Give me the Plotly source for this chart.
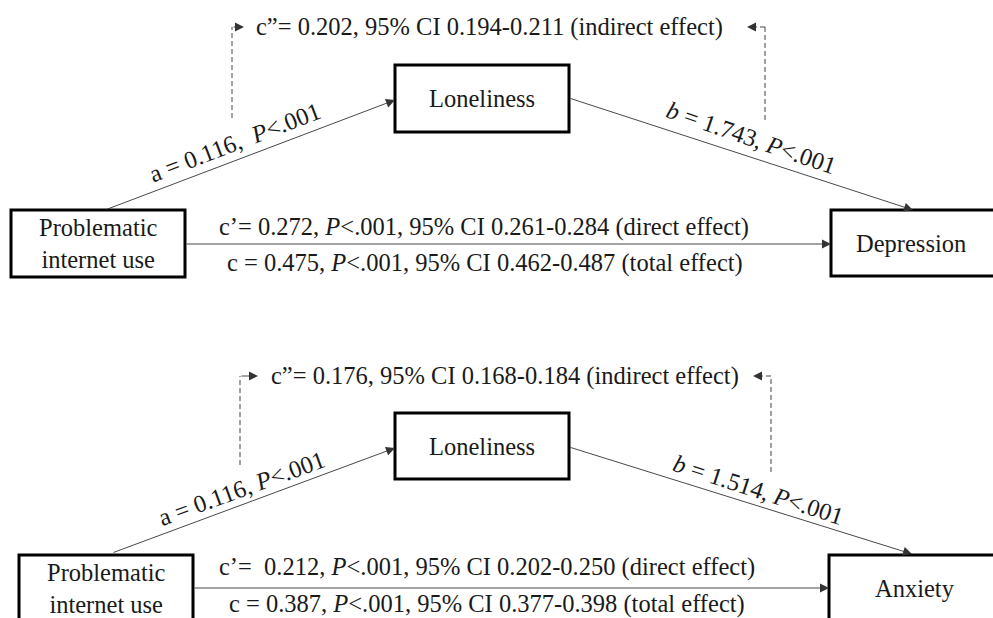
import plotly.graph_objects as go

# ---- data ----
outcomes = ["Depression", "Anxiety"]
predictor = "Problematic<br>internet use"
mediator = "Loneliness"
a_coef = [0.116, 0.116]
b_coef = [1.743, 1.514]
direct_eff = [0.272, 0.212]
direct_ci_low = [0.261, 0.202]
direct_ci_high = [0.284, 0.250]
total_eff = [0.475, 0.387]
total_ci_low = [0.462, 0.377]
total_ci_high = [0.487, 0.398]
indirect_eff = [0.202, 0.176]
indirect_ci_low = [0.194, 0.168]
indirect_ci_high = [0.211, 0.184]

FONT = "Liberation Serif, Times New Roman, serif"
FS = 24.5
TXT = "#1a1a1a"
LINE = "#444444"

# layout geometry for each panel (diagram positions)
panels = [
    dict(piu=(11, 185, 210, 277), lon=(395, 569, 65, 132), out=(831, 1010, 210, 276),
         a=((105, 210), (395, 100)), b=((569, 98), (913, 210)), cy=244,
         dl=(232, 118, 27, 244), dr=(765, 120, 27, 747), ind_x=489,
         a_lab=(234, 142, -21), b_lab=(751, 137, 19),
         cp_lab=(484, 227), c_lab=(485, 263), out_x=911, aspace="\u00a0",
         cpspace=""),
    dict(piu=(19, 193, 555, 622), lon=(395, 569, 413, 479), out=(829, 1010, 555, 622),
         a=((112, 553), (395, 448)), b=((569, 447), (912, 554)), cy=588,
         dl=(240, 465, 376, 258), dr=(771, 472, 376, 753), ind_x=505,
         a_lab=(241, 488, -20), b_lab=(758, 489, 18),
         cp_lab=(487, 567), c_lab=(487, 604), out_x=915, aspace="",
         cpspace="\u00a0"),
]

fig = go.Figure()
fig.add_trace(go.Scatter(x=[0, 993], y=[0, 618], mode="markers",
                         marker=dict(opacity=0), hoverinfo="skip", showlegend=False))

shapes = []
ann = []

def box(x0, x1, y0, y1):
    shapes.append(dict(type="rect", xref="x", yref="y", x0=x0, x1=x1, y0=y0, y1=y1,
                       line=dict(color="black", width=3), fillcolor="white", layer="above"))

def arrow(p0, p1):
    ann.append(dict(x=p1[0], y=p1[1], ax=p0[0], ay=p0[1], xref="x", yref="y",
                    axref="x", ayref="y", text="", showarrow=True, arrowhead=2,
                    arrowsize=2, arrowwidth=0.9, arrowcolor="#333333"))

def text(x, y, s, angle=0):
    ann.append(dict(x=x, y=y, xref="x", yref="y", text=s, showarrow=False,
                    textangle=angle, xanchor="center", yanchor="middle",
                    font=dict(family=FONT, size=FS, color=TXT)))

for i, p in enumerate(panels):
    # connecting arrows
    arrow(p["a"][0], p["a"][1])
    arrow(p["b"][0], p["b"][1])
    arrow((p["piu"][1], p["cy"]), (p["out"][0], p["cy"]))
    # dashed indirect path
    x, ybot, ytop, tip = p["dl"]
    shapes.append(dict(type="line", xref="x", yref="y", x0=x, x1=x, y0=ybot, y1=ytop,
                       line=dict(color=LINE, width=1, dash="5px,3px")))
    arrow((x, ytop), (tip, ytop))
    x, ybot, ytop, tip = p["dr"]
    shapes.append(dict(type="line", xref="x", yref="y", x0=x, x1=x, y0=ybot, y1=ytop,
                       line=dict(color=LINE, width=1, dash="5px,3px")))
    shapes.append(dict(type="line", xref="x", yref="y", x0=x, x1=tip + 8, y0=ytop, y1=ytop,
                       line=dict(color=LINE, width=1, dash="5px,3px")))
    arrow((tip + 8, ytop), (tip, ytop))
    # boxes
    box(*p["piu"])
    box(*p["lon"])
    box(*p["out"])
    # box labels
    x0, x1, y0, y1 = p["piu"]
    text((x0 + x1) / 2, (y0 + y1) / 2, predictor)
    x0, x1, y0, y1 = p["lon"]
    text((x0 + x1) / 2, (y0 + y1) / 2, mediator)
    x0, x1, y0, y1 = p["out"]
    text(p["out_x"], (y0 + y1) / 2, outcomes[i])
    # path labels
    text(p["ind_x"], p["dl"][2],
         f"c\u201d= {indirect_eff[i]:.3f}, 95% CI {indirect_ci_low[i]:.3f}-{indirect_ci_high[i]:.3f} (indirect effect)")
    ax_, ay_, ang = p["a_lab"]
    text(ax_, ay_, f"a = {a_coef[i]:.3f}, {p['aspace']}<i>P</i>&lt;.001", ang)
    bx_, by_, ang = p["b_lab"]
    text(bx_, by_, f"<i>b</i> = {b_coef[i]:.3f}, <i>P</i>&lt;.001", ang)
    text(p["cp_lab"][0], p["cp_lab"][1],
         f"c\u2019= {p['cpspace']}{direct_eff[i]:.3f}, <i>P</i>&lt;.001, 95% CI {direct_ci_low[i]:.3f}-{direct_ci_high[i]:.3f} (direct effect)")
    text(p["c_lab"][0], p["c_lab"][1],
         f"c = {total_eff[i]:.3f}, <i>P</i>&lt;.001, 95% CI {total_ci_low[i]:.3f}-{total_ci_high[i]:.3f} (total effect)")

fig.update_layout(
    width=993, height=618,
    margin=dict(l=0, r=0, t=0, b=0),
    paper_bgcolor="white", plot_bgcolor="white",
    font=dict(family=FONT),
    xaxis=dict(range=[0, 993], visible=False, fixedrange=True),
    yaxis=dict(range=[618, 0], visible=False, fixedrange=True),
    shapes=shapes, annotations=ann, showlegend=False,
)

fig.write_html("out.html", config={"displayModeBar": False},
               post_script="document.body.style.margin='0px';")
